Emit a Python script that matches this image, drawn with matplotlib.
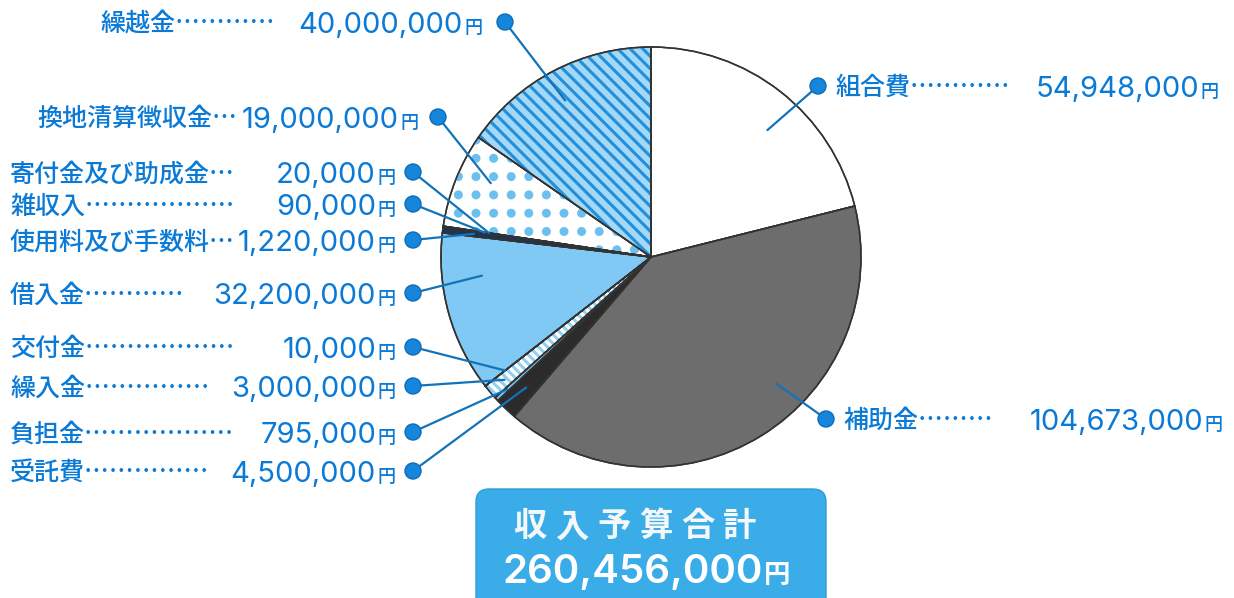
import numpy as np
import matplotlib
matplotlib.use('Agg')
import matplotlib.pyplot as plt
from matplotlib.patches import FancyBboxPatch, Circle, Wedge

W, H = 1234, 598

# ---- data ----
categories = ['組合費', '補助金', '受託費', '負担金', '繰入金', '交付金', '借入金',
              '使用料及び手数料', '雑収入', '寄付金及び助成金', '換地清算徴収金', '繰越金']
values = [54948000, 104673000, 4500000, 795000, 3000000, 10000, 32200000,
          1220000, 90000, 20000, 19000000, 40000000]
total_label = '収入予算合計'
total_value = 260456000

# ---- style / layout ----
CJK = 'Noto Sans CJK JP'
LAT = ['Inter', 'Noto Sans CJK JP']
TXT = '#0a7ad6'
colors = ['#ffffff', '#6d6d6d', '#2b2b2b', '#7cc6f2', '#8fd0f5', '#ffffff', '#80c9f4',
          '#1d3552', '#ffffff', '#ffffff', '#ffffff', '#a3d8f6']
# leader dots count, label center y, name x, amount right edge, marker x, wedge t, wedge r
dots = [4, 3, 5, 6, 5, 6, 4, 1, 6, 1, 1, 4]
lab_y = [86, 419, 471, 432, 386, 347, 293, 240, 204, 172, 117, 22]
name_x = [836, 843, 10, 10, 10, 10, 10, 10, 10, 10, 37, 100]
amt_end = [1218, 1222, 395, 395, 395, 395, 395, 395, 395, 395, 418, 482]
mark_x = [818, 826, 413, 413, 413, 413, 413, 413, 413, 413, 438, 505]
lead_t = [0.44, 0.59, 0.5, 0.5, 0.5, 0.5, 0.29, 0.5, 0.5, 0.5, 0.38, 0.52]
lead_r = [0.82, 0.85, 0.86, 0.93, 0.91, 0.88, 0.81, 0.85, 0.8, 0.78, 0.84, 0.85]

CX, CY, R = 651, 257, 210

def Y(y):
    return H - y

fig = plt.figure(figsize=(W / 100, H / 100), dpi=100)
ax = fig.add_axes([0, 0, 1, 1])

wedges, _ = ax.pie(values, startangle=90, counterclock=False, center=(CX, Y(CY)),
                   radius=R, colors=colors,
                   wedgeprops=dict(edgecolor='#333333', linewidth=1.1))
ax.set_xlim(0, W)
ax.set_ylim(0, H)
ax.set_aspect('equal')
ax.axis('off')

xs = np.array([CX - 260, CX + 260])
# texture for 繰越金 (diagonal stripes)
wk = wedges[categories.index('繰越金')]
for c in np.arange(-900, 900, 12.5):
    ln, = ax.plot(xs, Y(CY) - (xs - CX) + c, color='#228fda', lw=2.2,
                  solid_capstyle='butt', zorder=3)
    ln.set_clip_path(wk)

# texture for 換地清算徴収金 (dots)
wd = wedges[categories.index('換地清算徴収金')]
gxs = 476 + 17.6 * np.arange(-4, 14)
gys = 158.3 + 18.3 * np.arange(-5, 8)
gx, gy = np.meshgrid(gxs, gys)
sc = ax.scatter(gx.ravel(), Y(gy.ravel()), s=42, color='#6cc0ef', edgecolors='none', zorder=3)
sc.set_clip_path(wd)

# texture for 繰入金 (white dashes)
wr = wedges[categories.index('繰入金')]
for c in np.arange(-900, 900, 9):
    ln, = ax.plot(xs, Y(CY) - (xs - CX) + c, color='white', lw=2.4, zorder=3)
    ln.set_clip_path(wr)

# redraw edges on top
for w in wedges:
    ax.add_patch(Wedge(w.center, w.r, w.theta1, w.theta2, facecolor='none',
                       edgecolor='#333333', linewidth=1.1, zorder=4))

fig.canvas.draw()
renderer = fig.canvas.get_renderer()

NAME_FS = 18
NUM_FS = 21
YEN_FS = 13

def base(yc, fs):
    return Y(yc + 0.37 * fs * 100 / 72)

for i, cat in enumerate(categories):
    yc = lab_y[i]
    ax.text(name_x[i], base(yc, NAME_FS), cat + '…' * dots[i], fontsize=NAME_FS,
            family=CJK, color=TXT, ha='left', va='baseline', zorder=6, fontweight='medium')
    yt = ax.text(amt_end[i], base(yc, NUM_FS), '円', fontsize=YEN_FS, family=CJK,
                 color=TXT, ha='right', va='baseline', zorder=6, fontweight='medium')
    bb = yt.get_window_extent(renderer)
    ax.text(amt_end[i] - bb.width - 1, base(yc, NUM_FS), f'{values[i]:,}', fontsize=NUM_FS,
            family=LAT, color=TXT, ha='right', va='baseline', zorder=6)
    # leader line
    w = wedges[i]
    th = np.deg2rad(w.theta1 + lead_t[i] * (w.theta2 - w.theta1))
    ex = CX + lead_r[i] * R * np.cos(th)
    ey = Y(CY) + lead_r[i] * R * np.sin(th)
    ax.plot([mark_x[i], ex], [Y(yc), ey], color='#1373b8', lw=1.6, zorder=5,
            solid_capstyle='round')
    ax.add_patch(Circle((mark_x[i], Y(yc)), 8, facecolor='#1586dc', edgecolor='#0b6cb8',
                        lw=1.0, zorder=6))

# total box
box = FancyBboxPatch((476, Y(610)), 350, 121, boxstyle='round,pad=0,rounding_size=13',
                     facecolor='#3aace8', edgecolor='#2c9ddc', lw=1.0, zorder=5)
ax.add_patch(box)
for k, ch in enumerate(total_label):
    ax.text(530 + k * 42, base(524, 24), ch, fontsize=24, family=CJK, color='#f4f8fa',
            ha='center', va='baseline', zorder=6, fontweight='bold')
yt = ax.text(790, base(568, 29), '円', fontsize=19, family=CJK, color='white',
             ha='right', va='baseline', zorder=6, fontweight='bold')
bb = yt.get_window_extent(renderer)
ax.text(790 - bb.width - 1, base(568, 29), f'{total_value:,}', fontsize=29, family=LAT,
        color='white', ha='right', va='baseline', zorder=6, fontweight='semibold')

fig.savefig('out.png', dpi=100, facecolor='white')
